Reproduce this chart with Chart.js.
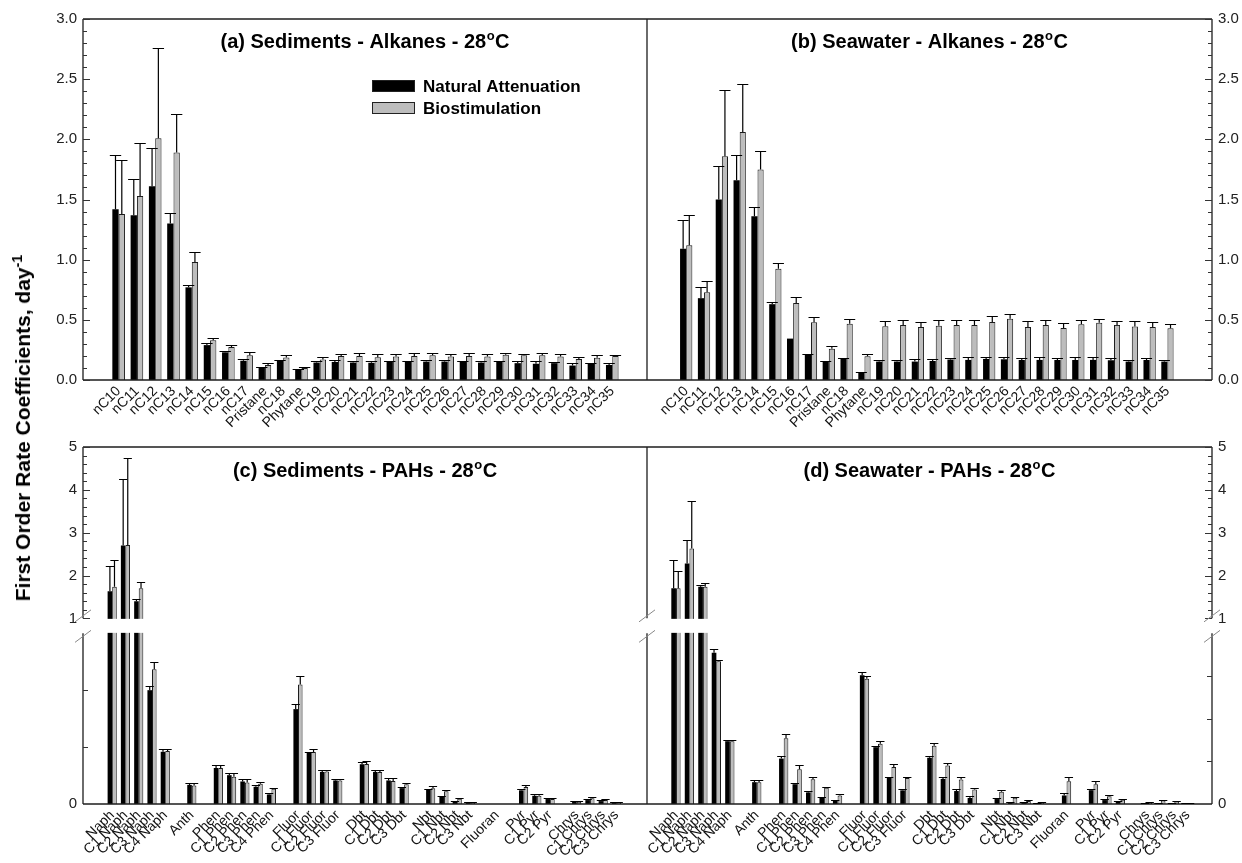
<!DOCTYPE html>
<html>
<head>
<meta charset="utf-8">
<script src="https://cdn.jsdelivr.net/npm/chart.js@4.4.1/dist/chart.umd.min.js"></script>
<style>
  body { margin: 0; background: #fff; width: 1242px; height: 863px; position: relative; overflow: hidden;
         font-family: "Liberation Sans", Arial, sans-serif; }
  canvas { position: absolute; }
  #ytitle { position: absolute; left: 22px; top: 428px; transform: translate(-50%, -50%) rotate(-90deg);
            font-weight: bold; font-size: 21px; white-space: nowrap; color: #000; }
  #ytitle sup { font-size: 0.68em; }
</style>
</head>
<body>
<canvas id="cA" width="647" height="432" style="left:0;top:0"></canvas>
<canvas id="cB" width="595" height="432" style="left:647px;top:0"></canvas>
<canvas id="cC" width="647" height="431" style="left:0;top:432px"></canvas>
<canvas id="cD" width="595" height="431" style="left:647px;top:432px"></canvas>
<div id="ytitle">First Order Rate Coefficients, day<sup>-1</sup></div>
<script>
const FONT = '"Liberation Sans", Arial, Helvetica, sans-serif';

// ---- data ----
const alkanes = ['nC10','nC11','nC12','nC13','nC14','nC15','nC16','nC17','Pristane','nC18','Phytane',
  'nC19','nC20','nC21','nC22','nC23','nC24','nC25','nC26','nC27','nC28','nC29','nC30','nC31','nC32','nC33','nC34','nC35'];

// (a) sediments - alkanes
const naSedAlk    = [1.42,1.37,1.61,1.30,0.77,0.29,0.23,0.16,0.105,0.16,0.083,0.145,0.15,0.145,0.143,0.15,0.15,0.153,0.153,0.15,0.145,0.15,0.14,0.135,0.14,0.12,0.135,0.125];
const naSedAlkErr = [0.45,0.30,0.32,0.09,0.02,0.02,0.01,0.015,0.005,0.01,0.007,0.014,0.014,0.014,0.014,0.012,0.012,0.012,0.012,0.006,0.014,0.012,0.014,0.02,0.011,0.022,0.006,0.014];
const bsSedAlk    = [1.38,1.53,2.01,1.89,0.98,0.33,0.275,0.206,0.125,0.186,0.10,0.17,0.20,0.20,0.19,0.195,0.20,0.205,0.195,0.20,0.195,0.21,0.205,0.205,0.195,0.175,0.185,0.20];
const bsSedAlkErr = [0.45,0.44,0.75,0.32,0.08,0.02,0.015,0.024,0.015,0.02,0.012,0.02,0.02,0.022,0.025,0.02,0.022,0.02,0.022,0.022,0.022,0.016,0.011,0.017,0.02,0.02,0.022,0.006];

// (b) seawater - alkanes
const naSwAlk    = [1.09,0.68,1.50,1.66,1.36,0.63,0.344,0.21,0.155,0.175,0.06,0.153,0.153,0.153,0.158,0.17,0.167,0.175,0.172,0.166,0.167,0.166,0.166,0.167,0.164,0.153,0.166,0.153];
const naSwAlkErr = [0.24,0.09,0.28,0.21,0.08,0.015,0,0.01,0.005,0.01,0.005,0.013,0.013,0.018,0.015,0.01,0.02,0.02,0.02,0.02,0.02,0.02,0.022,0.02,0.016,0.017,0.02,0.015];
const bsSwAlk    = [1.12,0.73,1.86,2.06,1.75,0.925,0.64,0.48,0.26,0.467,0.197,0.447,0.458,0.44,0.45,0.458,0.458,0.483,0.508,0.44,0.458,0.433,0.464,0.475,0.458,0.445,0.44,0.43];
const bsSwAlkErr = [0.25,0.09,0.55,0.40,0.15,0.05,0.05,0.045,0.02,0.043,0.017,0.043,0.042,0.043,0.047,0.042,0.039,0.047,0.042,0.047,0.042,0.037,0.036,0.035,0.03,0.042,0.04,0.035];

// PAH categories ('' = spacer between compound groups)
const pahs = ['Naph','C1 Naph','C2 Naph','C3 Naph','C4 Naph','','Anth','',
  'Phen','C1 Phen','C2 Phen','C3 Phen','C4 Phen','',
  'Fluor','C1 Fluor','C2 Fluor','C3 Fluor','',
  'Dbt','C1 Dbt','C2 Dbt','C3 Dbt','',
  'Nbt','C1 Nbt','C2 Nbt','C3 Nbt','','Fluoran','',
  'Pyr','C1 Pyr','C2 Pyr','',
  'Chrys','C1 Chrys','C2 Chrys','C3 Chrys'];

// (c) sediments - PAHs
const naSedPah    = [1.63,2.70,1.40,0.667,0.306,null,0.112,null,0.211,0.169,0.132,0.101,0.056,null,0.556,0.30,0.188,0.138,null,0.233,0.188,0.138,0.093,null,0.083,0.041,0.016,0.006,null,null,null,0.08,0.048,0.029,null,0.013,0.023,0.017,0.008];
const naSedPahErr = [0.60,1.56,0.05,0.023,0.014,null,0.012,null,0.016,0.015,0.013,0.013,0.006,null,0.029,0.003,0.01,0.01,null,0.015,0.012,0.013,0.008,null,0.005,0.006,0.004,0.004,null,null,null,0.009,0.01,0.004,null,0.004,0.007,0.007,0.002];
const bsSedPah    = [1.74,2.71,1.70,0.79,0.31,null,0.109,null,0.211,0.159,0.126,0.118,0.089,null,0.70,0.304,0.19,0.138,null,0.235,0.188,0.135,0.116,null,0.093,0.074,0.031,0.006,null,null,null,0.099,0.048,0.029,null,0.013,0.033,0.023,0.008];
const bsSedPahErr = [0.63,2.04,0.16,0.04,0.014,null,0.014,null,0.016,0.025,0.019,0.01,0.002,null,0.05,0.016,0.008,0.01,null,0.016,0.012,0.016,0.008,null,0.014,0.007,0.004,0.004,null,null,null,0.013,0.01,0.004,null,0.004,0.008,0.008,0.002];

// (d) seawater - PAHs
const naSwPah    = [1.70,2.28,1.74,0.886,0.368,null,0.128,null,0.266,0.116,0.068,0.037,0.019,null,0.754,0.333,0.153,0.08,null,0.271,0.147,0.076,0.035,null,0.029,0.01,0.006,0.004,null,0.05,null,0.081,0.023,0.012,null,0.005,0.005,0.004,0.003];
const naSwPahErr = [0.66,0.54,0.03,0.023,0.006,null,0.012,null,0.015,0.006,0.006,0.006,0.004,null,0.019,0.006,0.006,0.006,null,0.009,0.009,0.009,0.009,null,0.009,0.003,0.003,0.002,null,0.014,null,0.009,0.006,0.006,null,0.003,0.003,0.003,0.002];
const bsSwPah    = [1.70,2.63,1.74,0.837,0.368,null,0.128,null,0.386,0.203,0.145,0.095,0.05,null,0.734,0.353,0.217,0.153,null,0.341,0.225,0.143,0.085,null,0.072,0.037,0.017,0.006,null,0.134,null,0.116,0.046,0.025,null,0.006,0.02,0.015,0.006];
const bsSwPahErr = [0.41,1.11,0.08,0.008,0.006,null,0.014,null,0.025,0.024,0.014,0.006,0.01,null,0.016,0.017,0.016,0.008,null,0.014,0.017,0.016,0.006,null,0.008,0.006,0.006,0.004,null,0.025,null,0.016,0.008,0.006,null,0.003,0.005,0.005,0.002];

const yTicksAlk = [0, 0.5, 1, 1.5, 2, 2.5, 3];
const yTicksPah = [0, 1, 2, 3, 4, 5];

// ---- axis with a break: 0..brk in the lower part, brk..max above a small gap ----
class BrokenScale extends Chart.LinearScale {
  parts() {
    const h = this.bottom - this.top;
    return { low: h * 0.478, gap: h * 0.042 };
  }
  getPixelForValue(v) {
    const { low, gap } = this.parts();
    const brk = this.options.breakAt;
    if (v < brk) return this.bottom - v / brk * low;
    return this.bottom - low - gap - (v - brk) / (this.max - brk) * (this.bottom - this.top - low - gap);
  }
  getValueForPixel(p) {
    const { low, gap } = this.parts();
    const brk = this.options.breakAt;
    const d = this.bottom - p;
    if (d <= low) return d / low * brk;
    return brk + (d - low - gap) / (this.bottom - this.top - low - gap) * (this.max - brk);
  }
}
BrokenScale.id = 'broken';
BrokenScale.defaults = { ...Chart.LinearScale.defaults };
Chart.register(BrokenScale);

// frame, inward ticks, axis break, error bars, title and legend
const panelPlugin = {
  id: 'panel',
  afterDatasetsDraw(chart, args, o) {
    const { ctx, chartArea: a } = chart;
    const ys = chart.scales.y;
    ctx.save();
    let upStart, lowTop;
    if (o.brk) {
      lowTop = ys.getPixelForValue(o.brk - 1e-9);
      upStart = ys.getPixelForValue(o.brk);
      ctx.fillStyle = '#fff';
      ctx.fillRect(a.left - 2, upStart + 0.5, a.right - a.left + 4, lowTop - upStart - 1);
    }
    ctx.strokeStyle = '#1e1e1e';
    ctx.lineWidth = 1.3;
    ctx.beginPath();
    ctx.moveTo(a.left, a.top); ctx.lineTo(a.right, a.top);
    ctx.moveTo(a.left, a.bottom); ctx.lineTo(a.right, a.bottom);
    [a.left, a.right].forEach(x => {
      if (o.brk) {
        ctx.moveTo(x, a.top); ctx.lineTo(x, upStart);
        ctx.moveTo(x, lowTop); ctx.lineTo(x, a.bottom);
      } else {
        ctx.moveTo(x, a.top); ctx.lineTo(x, a.bottom);
      }
    });
    ctx.stroke();

    const ax = o.side === 'left' ? a.left : a.right;
    const dir = o.side === 'left' ? 1 : -1;
    ctx.lineWidth = 1;
    ctx.strokeStyle = '#333';
    ctx.beginPath();
    o.marks.forEach(([v, len]) => {
      const y = Math.round(ys.getPixelForValue(v)) + 0.5;
      ctx.moveTo(ax, y); ctx.lineTo(ax + dir * len, y);
    });
    ctx.stroke();

    if (o.brk) {
      ctx.strokeStyle = '#888';
      ctx.beginPath();
      [a.left, a.right].forEach(x => [upStart - 2.5, lowTop + 3].forEach(y => {
        ctx.moveTo(x - 8, y + 6); ctx.lineTo(x + 8, y - 6);
      }));
      ctx.stroke();
    }

    // error bars (upper whisker only)
    ctx.strokeStyle = '#000';
    ctx.lineWidth = 1.2;
    chart.data.datasets.forEach((ds, i) => {
      const meta = chart.getDatasetMeta(i);
      meta.data.forEach((bar, j) => {
        const v = ds.data[j].y, e = ds.errors[j];
        if (v == null || !e) return;
        const yTop = Math.round(ys.getPixelForValue(v + e)) + 0.5;
        const half = bar.width * 0.9;
        ctx.beginPath();
        ctx.moveTo(bar.x, bar.y); ctx.lineTo(bar.x, yTop);
        ctx.moveTo(bar.x - half, yTop); ctx.lineTo(bar.x + half, yTop);
        ctx.stroke();
      });
    });

    // panel title with raised "o"
    const big = 'bold 20px ' + FONT, small = 'bold 13px ' + FONT;
    ctx.fillStyle = '#000';
    ctx.textBaseline = 'alphabetic';
    ctx.font = big; const w1 = ctx.measureText(o.title).width, w3 = ctx.measureText('C').width;
    ctx.font = small; const w2 = ctx.measureText('o').width + 1;
    let tx = (a.left + a.right) / 2 - (w1 + w2 + w3) / 2;
    const ty = a.top + o.titleY;
    ctx.font = big; ctx.textAlign = 'left';
    ctx.fillText(o.title, tx, ty);
    ctx.font = small; ctx.fillText('o', tx + w1 + 0.5, ty - 8);
    ctx.font = big; ctx.fillText('C', tx + w1 + w2, ty);

    if (o.legend) {
      ctx.textBaseline = 'middle';
      chart.data.datasets.forEach((ds, i) => {
        const x = a.left + 289, y = a.top + 61 + i * 22;
        ctx.fillStyle = ds.backgroundColor;
        ctx.fillRect(x, y, 43, 12);
        ctx.strokeStyle = '#222'; ctx.lineWidth = 1;
        ctx.strokeRect(x + 0.5, y + 0.5, 42, 11);
        ctx.fillStyle = '#000';
        ctx.font = 'bold 17px ' + FONT;
        ctx.fillText(ds.label, x + 51, y + 7);
      });
    }
    ctx.restore();
  }
};

function makeMarks(brk, side) {
  const m = [];
  if (!brk) {
    for (let k = 0; k <= 30; k++) m.push([k / 10, k % 5 === 0 ? 7 : 4]);
  } else {
    for (let k = 0; k <= 20; k++) m.push([1 + k * 0.2, k % 5 === 0 ? 7 : 4]);
    const lower = side === 'left' ? [1 / 3, 2 / 3] : [0.25, 0.5, 0.75];
    lower.forEach(v => m.push([v, 5]));
  }
  return m;
}

function panel(id, cats, na, naErr, bs, bsErr, p) {
  const pts = arr => arr.map((v, i) => ({ x: i, y: v }));
  const yTicks = p.brk ? yTicksPah : yTicksAlk;
  return new Chart(document.getElementById(id), {
    type: 'bar',
    data: {
      datasets: [
        { label: 'Natural Attenuation', data: pts(na), errors: naErr,
          backgroundColor: '#000000', borderWidth: 0 },
        { label: 'Biostimulation', data: pts(bs), errors: bsErr,
          backgroundColor: '#bdbdbd', borderColor: '#1a1a1a', borderWidth: 1 }
      ]
    },
    options: {
      responsive: false,
      animation: false,
      events: [],
      layout: { padding: { top: p.top, left: 0, right: 0, bottom: 0 } },
      datasets: { bar: { categoryPercentage: 0.69, barPercentage: 1 } },
      plugins: {
        legend: { display: false },
        tooltip: { enabled: false },
        panel: { title: p.title, titleY: p.titleY, legend: p.legend, side: p.side, brk: p.brk,
                 marks: makeMarks(p.brk, p.side) }
      },
      scales: {
        x: {
          type: 'linear', offset: false, min: p.xmin, max: p.xmax,
          grid: { display: false, drawTicks: false, offset: false }, border: { display: false },
          afterBuildTicks: s => { s.ticks = cats.map((c, i) => ({ value: i })); },
          afterFit: s => { s.height = p.xh; },
          ticks: { autoSkip: false, minRotation: 45, maxRotation: 45, padding: 3, color: '#111',
                   font: { family: FONT, size: 14 }, callback: v => cats[Math.round(v)] }
        },
        y: {
          type: p.brk ? 'broken' : 'linear', breakAt: 1,
          position: p.side, min: 0, max: p.brk ? 5 : 3,
          grid: { display: false, drawTicks: false }, border: { display: false },
          afterBuildTicks: s => { s.ticks = yTicks.map(v => ({ value: v })); },
          afterFit: s => { s.width = p.side === 'left' ? 83 : 30; },
          ticks: { padding: 6, color: '#222', font: { family: FONT, size: 15 },
                   callback: v => p.brk ? String(v) : v.toFixed(1) }
        }
      }
    },
    plugins: [panelPlugin]
  });
}

panel('cA', alkanes, naSedAlk, naSedAlkErr, bsSedAlk, bsSedAlkErr,
  { title: '(a) Sediments - Alkanes - 28', titleY: 29, legend: true, side: 'left', brk: 0,
    top: 19, xh: 52, xmin: -1.95, xmax: 28.9 });
panel('cB', alkanes, naSwAlk, naSwAlkErr, bsSwAlk, bsSwAlkErr,
  { title: '(b) Seawater - Alkanes - 28', titleY: 29, legend: false, side: 'right', brk: 0,
    top: 19, xh: 52, xmin: -2.2, xmax: 29.5 });
panel('cC', pahs, naSedPah, naSedPahErr, bsSedPah, bsSedPahErr,
  { title: '(c) Sediments - PAHs - 28', titleY: 30, legend: false, side: 'left', brk: 1,
    top: 12, xh: 59, xmin: -2.2, xmax: 40.3 });
panel('cD', pahs, naSwPah, naSwPahErr, bsSwPah, bsSwPahErr,
  { title: '(d) Seawater - PAHs - 28', titleY: 30, legend: false, side: 'right', brk: 1,
    top: 12, xh: 59, xmin: -2.15, xmax: 39.8 });
</script>
</body>
</html>
